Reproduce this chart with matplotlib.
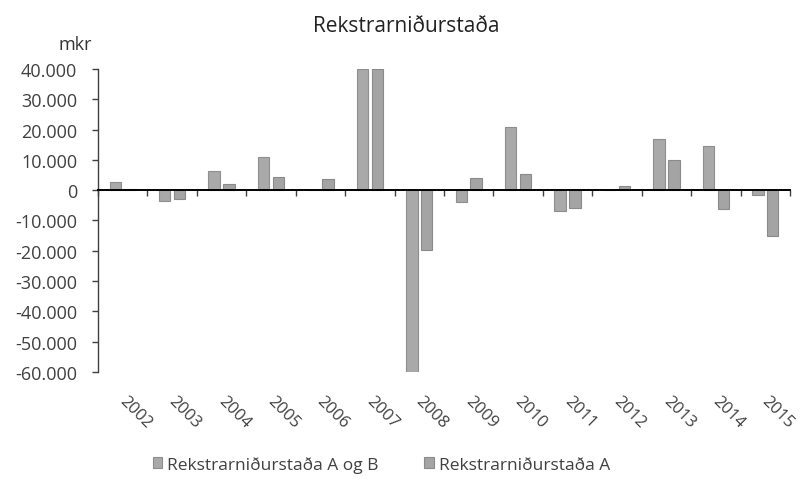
# Rekstrarniðurstaða - súlurit
import matplotlib
matplotlib.use('Agg')
import matplotlib.pyplot as plt
import matplotlib.transforms as mtransforms
from matplotlib.ticker import FuncFormatter, MultipleLocator
import numpy as np

plt.rcParams['font.family'] = ['Open Sans', 'DejaVu Sans']

# gögn (mkr)
years = ['2002', '2003', '2004', '2005', '2006', '2007', '2008',
         '2009', '2010', '2011', '2012', '2013', '2014', '2015']
a_og_b = [2800, -3700, 6400, 10800, 150, 40000, -60000,
          -4000, 20700, -7000, 100, 16900, 14600, -1500]
a_only = [400, -3000, 2200, 4500, 3600, 40000, -19700,
          3900, 5300, -6000, 1300, 9900, -6100, -15100]
series_names = ['Rekstrarniðurstaða A og B', 'Rekstrarniðurstaða A']

fig = plt.figure(figsize=(8.01, 4.85), dpi=100)
ax = fig.add_axes([0.1223, 0.2309, 0.8640, 0.6248])

x = np.arange(len(years))
w = 0.23
ax.bar(x - 0.15, a_og_b, w, color='#a9a9a9', edgecolor='#8e8e8e',
       linewidth=0.8, label=series_names[0], zorder=2)
ax.bar(x + 0.15, a_only, w, color='#a4a4a4', edgecolor='#8a8a8a',
       linewidth=0.8, label=series_names[1], zorder=2)

ax.set_xlim(-0.5, len(years) - 0.5)
ax.set_ylim(-60000, 40000)
ax.yaxis.set_major_locator(MultipleLocator(10000))
ax.yaxis.set_major_formatter(FuncFormatter(lambda v, p: f'{int(v):,}'.replace(',', '.')))

# ásar
for s in ['top', 'right']:
    ax.spines[s].set_visible(False)
ax.spines['left'].set_color('#404040')
ax.spines['left'].set_linewidth(1.0)
ax.spines['bottom'].set_position(('data', 0))
ax.spines['bottom'].set_color('black')
ax.spines['bottom'].set_linewidth(1.4)
ax.spines['bottom'].set_zorder(3)

ax.set_xticks(np.arange(len(years) + 1) - 0.5)
ax.set_xticklabels([])
ax.tick_params(axis='x', length=4, width=1, color='#404040', direction='out')
ax.tick_params(axis='y', length=4, width=1, color='#404040', direction='out',
               labelsize=13, labelcolor='#404040', pad=11)

# ártöl neðst
trans = mtransforms.blended_transform_factory(ax.transData, ax.transAxes)
for i, yr in enumerate(years):
    ax.text(i - 0.02, -0.085, yr, transform=trans, rotation=-45,
            rotation_mode='anchor', ha='left', va='center',
            fontsize=12, color='#404040')

fig.text(0.507, 0.945, 'Rekstrarniðurstaða', ha='center', va='center',
         fontsize=15, color='#222222')
fig.text(0.094, 0.907, 'mkr', ha='center', va='center', fontsize=13,
         color='#333333')

leg = fig.legend(loc='center', bbox_to_anchor=(0.476, 0.041), ncol=2,
                 frameon=False, fontsize=12.5, handlelength=0.55,
                 handleheight=0.55, handletextpad=0.3, columnspacing=2.6)
for t in leg.get_texts():
    t.set_color('#404040')

fig.savefig('out.png', dpi=100)
